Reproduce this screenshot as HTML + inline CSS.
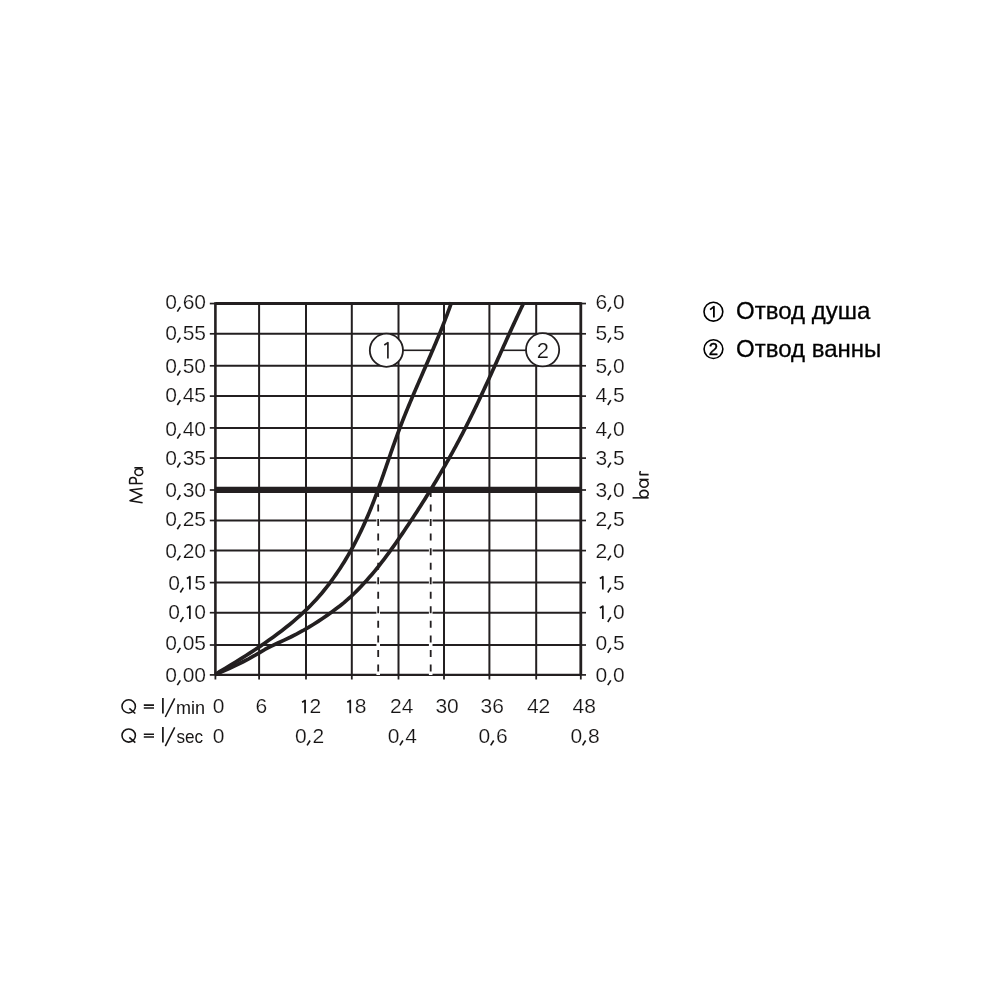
<!DOCTYPE html><html><head><meta charset="utf-8"><style>html,body{margin:0;padding:0;background:#fff;}svg{display:block;will-change:transform;}text{font-family:"Liberation Sans", sans-serif;fill:#161414;}.t{stroke:#fff;stroke-width:0.2px;}</style></head><body>
<svg width="1000" height="1000" viewBox="0 0 1000 1000">
<rect width="1000" height="1000" fill="#fff"/>
<g stroke="#231f20" fill="none"><line x1="209.8" y1="303.55" x2="215.40" y2="303.55" stroke-width="1.7"/><line x1="580.80" y1="303.55" x2="586" y2="303.55" stroke-width="1.7"/><line x1="215.40" y1="303.55" x2="580.80" y2="303.55" stroke-width="2.95"/><line x1="209.8" y1="333.80" x2="215.40" y2="333.80" stroke-width="1.7"/><line x1="580.80" y1="333.80" x2="586" y2="333.80" stroke-width="1.7"/><line x1="215.40" y1="333.80" x2="580.80" y2="333.80" stroke-width="2.00"/><line x1="209.8" y1="365.80" x2="215.40" y2="365.80" stroke-width="1.7"/><line x1="580.80" y1="365.80" x2="586" y2="365.80" stroke-width="1.7"/><line x1="215.40" y1="365.80" x2="580.80" y2="365.80" stroke-width="2.00"/><line x1="209.8" y1="396.10" x2="215.40" y2="396.10" stroke-width="1.7"/><line x1="580.80" y1="396.10" x2="586" y2="396.10" stroke-width="1.7"/><line x1="215.40" y1="396.10" x2="580.80" y2="396.10" stroke-width="2.00"/><line x1="209.8" y1="427.90" x2="215.40" y2="427.90" stroke-width="1.7"/><line x1="580.80" y1="427.90" x2="586" y2="427.90" stroke-width="1.7"/><line x1="215.40" y1="427.90" x2="580.80" y2="427.90" stroke-width="2.00"/><line x1="209.8" y1="458.10" x2="215.40" y2="458.10" stroke-width="1.7"/><line x1="580.80" y1="458.10" x2="586" y2="458.10" stroke-width="1.7"/><line x1="215.40" y1="458.10" x2="580.80" y2="458.10" stroke-width="2.00"/><line x1="209.8" y1="490.00" x2="215.40" y2="490.00" stroke-width="1.7"/><line x1="580.80" y1="490.00" x2="586" y2="490.00" stroke-width="1.7"/><line x1="215.40" y1="489.8" x2="580.80" y2="489.8" stroke-width="6.2"/><line x1="209.8" y1="520.50" x2="215.40" y2="520.50" stroke-width="1.7"/><line x1="580.80" y1="520.50" x2="586" y2="520.50" stroke-width="1.7"/><line x1="215.40" y1="520.50" x2="580.80" y2="520.50" stroke-width="2.00"/><line x1="209.8" y1="550.60" x2="215.40" y2="550.60" stroke-width="1.7"/><line x1="580.80" y1="550.60" x2="586" y2="550.60" stroke-width="1.7"/><line x1="215.40" y1="550.60" x2="580.80" y2="550.60" stroke-width="2.00"/><line x1="209.8" y1="582.60" x2="215.40" y2="582.60" stroke-width="1.7"/><line x1="580.80" y1="582.60" x2="586" y2="582.60" stroke-width="1.7"/><line x1="215.40" y1="582.60" x2="580.80" y2="582.60" stroke-width="2.00"/><line x1="209.8" y1="612.70" x2="215.40" y2="612.70" stroke-width="1.7"/><line x1="580.80" y1="612.70" x2="586" y2="612.70" stroke-width="1.7"/><line x1="215.40" y1="612.70" x2="580.80" y2="612.70" stroke-width="2.00"/><line x1="209.8" y1="645.00" x2="215.40" y2="645.00" stroke-width="1.7"/><line x1="580.80" y1="645.00" x2="586" y2="645.00" stroke-width="1.7"/><line x1="215.40" y1="645.00" x2="580.80" y2="645.00" stroke-width="2.00"/><line x1="209.8" y1="674.90" x2="215.40" y2="674.90" stroke-width="1.7"/><line x1="580.80" y1="674.90" x2="586" y2="674.90" stroke-width="1.7"/><line x1="215.40" y1="674.90" x2="580.80" y2="674.90" stroke-width="2.20"/><line x1="215.40" y1="302.15" x2="215.40" y2="674.90" stroke-width="2.60"/><line x1="215.40" y1="674.90" x2="215.40" y2="679.5" stroke-width="1.8"/><line x1="259.10" y1="302.15" x2="259.10" y2="674.90" stroke-width="2.00"/><line x1="259.10" y1="674.90" x2="259.10" y2="679.5" stroke-width="1.8"/><line x1="306.00" y1="302.15" x2="306.00" y2="674.90" stroke-width="2.00"/><line x1="306.00" y1="674.90" x2="306.00" y2="679.5" stroke-width="1.8"/><line x1="351.80" y1="302.15" x2="351.80" y2="674.90" stroke-width="2.00"/><line x1="351.80" y1="674.90" x2="351.80" y2="679.5" stroke-width="1.8"/><line x1="398.50" y1="302.15" x2="398.50" y2="674.90" stroke-width="2.00"/><line x1="398.50" y1="674.90" x2="398.50" y2="679.5" stroke-width="1.8"/><line x1="444.00" y1="302.15" x2="444.00" y2="674.90" stroke-width="2.00"/><line x1="444.00" y1="674.90" x2="444.00" y2="679.5" stroke-width="1.8"/><line x1="489.40" y1="302.15" x2="489.40" y2="674.90" stroke-width="2.00"/><line x1="489.40" y1="674.90" x2="489.40" y2="679.5" stroke-width="1.8"/><line x1="536.20" y1="302.15" x2="536.20" y2="674.90" stroke-width="2.00"/><line x1="536.20" y1="674.90" x2="536.20" y2="679.5" stroke-width="1.8"/><line x1="580.80" y1="302.15" x2="580.80" y2="674.90" stroke-width="2.80"/><line x1="580.80" y1="674.90" x2="580.80" y2="679.5" stroke-width="1.8"/></g>
<line x1="378.2" y1="494" x2="378.2" y2="675" stroke="#fff" stroke-width="3.6"/>
<line x1="378.2" y1="490" x2="378.2" y2="675.5" stroke="#231f20" stroke-width="1.8" stroke-dasharray="7 7.54"/>
<line x1="430.7" y1="494" x2="430.7" y2="675" stroke="#fff" stroke-width="3.6"/>
<line x1="430.7" y1="490" x2="430.7" y2="675.5" stroke="#231f20" stroke-width="1.8" stroke-dasharray="7 7.54"/>
<path d="M215.50,674.50 L220.06,671.37 L225.33,668.24 L230.52,665.12 L235.64,661.99 L240.69,658.86 L245.65,655.73 L250.52,652.61 L255.30,649.48 L259.99,646.35 L264.57,643.22 L269.04,640.09 L273.41,636.97 L277.65,633.84 L281.78,630.71 L285.78,627.58 L289.66,624.46 L293.41,621.33 L297.04,618.20 L300.55,615.07 L303.94,611.95 L307.20,608.82 L310.34,605.69 L313.37,602.56 L316.27,599.43 L319.07,596.31 L321.75,593.18 L324.34,590.05 L326.83,586.92 L329.24,583.80 L331.56,580.67 L333.81,577.54 L336.00,574.41 L338.12,571.28 L340.19,568.16 L342.20,565.03 L344.16,561.90 L346.07,558.77 L347.92,555.65 L349.73,552.52 L351.49,549.39 L353.21,546.26 L354.88,543.14 L356.51,540.01 L358.09,536.88 L359.64,533.75 L361.15,530.62 L362.62,527.50 L364.05,524.37 L365.45,521.24 L366.82,518.11 L368.16,514.99 L369.46,511.86 L370.74,508.73 L371.99,505.60 L373.22,502.47 L374.43,499.35 L375.61,496.22 L376.78,493.09 L377.93,489.96 L379.06,486.84 L380.18,483.71 L381.29,480.58 L382.39,477.45 L383.48,474.33 L384.56,471.20 L385.64,468.07 L386.72,464.94 L387.80,461.81 L388.87,458.69 L389.95,455.56 L391.03,452.43 L392.12,449.30 L393.22,446.18 L394.32,443.05 L395.44,439.92 L396.57,436.79 L397.71,433.66 L398.87,430.54 L400.05,427.41 L401.25,424.28 L402.47,421.15 L403.70,418.03 L404.96,414.90 L406.22,411.77 L407.51,408.64 L408.80,405.52 L410.11,402.39 L411.43,399.26 L412.75,396.13 L414.09,393.00 L415.43,389.88 L416.78,386.75 L418.14,383.62 L419.50,380.49 L420.86,377.37 L422.23,374.24 L423.59,371.11 L424.96,367.98 L426.32,364.85 L427.68,361.73 L429.04,358.60 L430.39,355.47 L431.74,352.34 L433.07,349.22 L434.41,346.09 L435.73,342.96 L437.04,339.83 L438.34,336.71 L439.62,333.58 L440.90,330.45 L442.15,327.32 L443.40,324.19 L444.62,321.07 L445.83,317.94 L447.01,314.81 L448.18,311.68 L449.32,308.56 L450.44,305.43 L451.54,302.30" stroke="#231f20" stroke-width="3.7" fill="none" stroke-linejoin="round"/>
<path d="M215.50,674.50 L222.72,671.37 L229.66,668.25 L236.31,665.12 L242.64,662.00 L248.65,658.87 L254.32,655.74 L259.65,652.62 L264.92,649.49 L270.80,646.37 L277.40,643.24 L284.21,640.11 L290.76,636.99 L296.89,633.86 L302.66,630.74 L308.10,627.61 L313.26,624.48 L318.16,621.36 L322.86,618.23 L327.39,615.11 L331.78,611.98 L336.05,608.85 L340.14,605.73 L344.00,602.60 L347.64,599.47 L351.08,596.35 L354.36,593.22 L357.51,590.10 L360.56,586.97 L363.51,583.84 L366.37,580.72 L369.15,577.59 L371.86,574.47 L374.49,571.34 L377.05,568.21 L379.55,565.09 L381.98,561.96 L384.37,558.84 L386.71,555.71 L389.00,552.58 L391.26,549.46 L393.48,546.33 L395.68,543.21 L397.85,540.08 L400.00,536.95 L402.14,533.83 L404.26,530.70 L406.37,527.58 L408.46,524.45 L410.54,521.32 L412.60,518.20 L414.65,515.07 L416.68,511.95 L418.69,508.82 L420.69,505.69 L422.68,502.57 L424.65,499.44 L426.60,496.32 L428.54,493.19 L430.46,490.06 L432.37,486.94 L434.26,483.81 L436.14,480.68 L438.00,477.56 L439.84,474.43 L441.67,471.31 L443.48,468.18 L445.28,465.05 L447.06,461.93 L448.82,458.80 L450.57,455.68 L452.30,452.55 L454.02,449.42 L455.72,446.30 L457.40,443.17 L459.07,440.05 L460.72,436.92 L462.36,433.79 L463.98,430.67 L465.58,427.54 L467.17,424.42 L468.74,421.29 L470.30,418.16 L471.84,415.04 L473.37,411.91 L474.88,408.79 L476.39,405.66 L477.88,402.53 L479.36,399.41 L480.83,396.28 L482.30,393.16 L483.75,390.03 L485.20,386.90 L486.64,383.78 L488.07,380.65 L489.50,377.53 L490.92,374.40 L492.34,371.27 L493.75,368.15 L495.16,365.02 L496.57,361.89 L497.98,358.77 L499.39,355.64 L500.79,352.52 L502.20,349.39 L503.61,346.26 L505.02,343.14 L506.44,340.01 L507.86,336.89 L509.28,333.76 L510.71,330.63 L512.14,327.51 L513.58,324.38 L515.03,321.26 L516.48,318.13 L517.94,315.00 L519.42,311.88 L520.90,308.75 L522.39,305.63 L523.90,302.50" stroke="#231f20" stroke-width="3.7" fill="none" stroke-linejoin="round"/>
<line x1="403" y1="350.3" x2="432" y2="350.3" stroke="#231f20" stroke-width="1.6"/>
<line x1="503" y1="350.3" x2="526" y2="350.3" stroke="#231f20" stroke-width="1.6"/>
<circle cx="386.4" cy="350.25" r="16.6" fill="#fff" stroke="#231f20" stroke-width="1.8"/>
<circle cx="542.6" cy="349.8" r="16.6" fill="#fff" stroke="#231f20" stroke-width="1.8"/>
<path d="M384.3,344.9 L387.9,342.7 L387.9,358.4" stroke="#231f20" stroke-width="1.7" fill="none" stroke-linejoin="round"/>
<text x="542.9" y="358.2" class="t" font-size="22" text-anchor="middle">2</text>
<text x="165.13 182.64 194.32" y="308.80" class="t" font-size="21">060</text><path d="M180.32,306.80 L177.32,311.70" stroke="#161414" stroke-width="1.6" fill="none"/>
<text x="165.13 182.64 194.32" y="339.70" class="t" font-size="21">055</text><path d="M180.32,337.70 L177.32,342.60" stroke="#161414" stroke-width="1.6" fill="none"/>
<text x="165.13 182.64 194.32" y="372.60" class="t" font-size="21">050</text><path d="M180.32,370.60 L177.32,375.50" stroke="#161414" stroke-width="1.6" fill="none"/>
<text x="165.13 182.64 194.32" y="402.10" class="t" font-size="21">045</text><path d="M180.32,400.10 L177.32,405.00" stroke="#161414" stroke-width="1.6" fill="none"/>
<text x="165.13 182.64 194.32" y="435.70" class="t" font-size="21">040</text><path d="M180.32,433.70 L177.32,438.60" stroke="#161414" stroke-width="1.6" fill="none"/>
<text x="165.13 182.64 194.32" y="464.60" class="t" font-size="21">035</text><path d="M180.32,462.60 L177.32,467.50" stroke="#161414" stroke-width="1.6" fill="none"/>
<text x="165.13 182.64 194.32" y="497.00" class="t" font-size="21">030</text><path d="M180.32,495.00 L177.32,499.90" stroke="#161414" stroke-width="1.6" fill="none"/>
<text x="165.13 182.64 194.32" y="526.35" class="t" font-size="21">025</text><path d="M180.32,524.35 L177.32,529.25" stroke="#161414" stroke-width="1.6" fill="none"/>
<text x="165.13 182.64 194.32" y="557.55" class="t" font-size="21">020</text><path d="M180.32,555.55 L177.32,560.45" stroke="#161414" stroke-width="1.6" fill="none"/>
<text x="168.13 194.32" y="589.60" class="t" font-size="21">05</text><path d="M183.32,587.60 L180.32,592.50" stroke="#161414" stroke-width="1.6" fill="none"/><path d="M186.88,578.49 L189.88,576.79 L189.88,589.60" stroke="#161414" stroke-width="1.75" fill="none" stroke-linejoin="round"/>
<text x="168.13 194.32" y="619.10" class="t" font-size="21">00</text><path d="M183.32,617.10 L180.32,622.00" stroke="#161414" stroke-width="1.6" fill="none"/><path d="M186.88,607.99 L189.88,606.29 L189.88,619.10" stroke="#161414" stroke-width="1.75" fill="none" stroke-linejoin="round"/>
<text x="165.13 182.64 194.32" y="649.90" class="t" font-size="21">005</text><path d="M180.32,647.90 L177.32,652.80" stroke="#161414" stroke-width="1.6" fill="none"/>
<text x="165.13 182.64 194.32" y="682.30" class="t" font-size="21">000</text><path d="M180.32,680.30 L177.32,685.20" stroke="#161414" stroke-width="1.6" fill="none"/>
<text x="595.60 613.11" y="308.80" class="t" font-size="21">60</text><path d="M610.80,306.80 L607.80,311.70" stroke="#161414" stroke-width="1.6" fill="none"/>
<text x="595.60 613.11" y="339.70" class="t" font-size="21">55</text><path d="M610.80,337.70 L607.80,342.60" stroke="#161414" stroke-width="1.6" fill="none"/>
<text x="595.60 613.11" y="372.60" class="t" font-size="21">50</text><path d="M610.80,370.60 L607.80,375.50" stroke="#161414" stroke-width="1.6" fill="none"/>
<text x="595.60 613.11" y="402.10" class="t" font-size="21">45</text><path d="M610.80,400.10 L607.80,405.00" stroke="#161414" stroke-width="1.6" fill="none"/>
<text x="595.60 613.11" y="435.70" class="t" font-size="21">40</text><path d="M610.80,433.70 L607.80,438.60" stroke="#161414" stroke-width="1.6" fill="none"/>
<text x="595.60 613.11" y="464.60" class="t" font-size="21">35</text><path d="M610.80,462.60 L607.80,467.50" stroke="#161414" stroke-width="1.6" fill="none"/>
<text x="595.60 613.11" y="497.00" class="t" font-size="21">30</text><path d="M610.80,495.00 L607.80,499.90" stroke="#161414" stroke-width="1.6" fill="none"/>
<text x="595.60 613.11" y="526.35" class="t" font-size="21">25</text><path d="M610.80,524.35 L607.80,529.25" stroke="#161414" stroke-width="1.6" fill="none"/>
<text x="595.60 613.11" y="557.55" class="t" font-size="21">20</text><path d="M610.80,555.55 L607.80,560.45" stroke="#161414" stroke-width="1.6" fill="none"/>
<text x="613.11" y="589.60" class="t" font-size="21">5</text><path d="M599.84,578.49 L602.84,576.79 L602.84,589.60" stroke="#161414" stroke-width="1.75" fill="none" stroke-linejoin="round"/><path d="M610.80,587.60 L607.80,592.50" stroke="#161414" stroke-width="1.6" fill="none"/>
<text x="613.11" y="619.10" class="t" font-size="21">0</text><path d="M599.84,607.99 L602.84,606.29 L602.84,619.10" stroke="#161414" stroke-width="1.75" fill="none" stroke-linejoin="round"/><path d="M610.80,617.10 L607.80,622.00" stroke="#161414" stroke-width="1.6" fill="none"/>
<text x="595.60 613.11" y="649.90" class="t" font-size="21">05</text><path d="M610.80,647.90 L607.80,652.80" stroke="#161414" stroke-width="1.6" fill="none"/>
<text x="595.60 613.11" y="682.30" class="t" font-size="21">00</text><path d="M610.80,680.30 L607.80,685.20" stroke="#161414" stroke-width="1.6" fill="none"/>
<text x="212.66" y="713.30" class="t" font-size="21">0</text>
<text x="255.56" y="713.30" class="t" font-size="21">6</text>
<text x="309.50" y="713.30" class="t" font-size="21">2</text><path d="M302.06,702.19 L305.06,700.49 L305.06,713.30" stroke="#161414" stroke-width="1.75" fill="none" stroke-linejoin="round"/>
<text x="354.70" y="713.30" class="t" font-size="21">8</text><path d="M347.26,702.19 L350.26,700.49 L350.26,713.30" stroke="#161414" stroke-width="1.75" fill="none" stroke-linejoin="round"/>
<text x="390.02 401.70" y="713.30" class="t" font-size="21">24</text>
<text x="435.42 447.10" y="713.30" class="t" font-size="21">30</text>
<text x="480.52 492.20" y="713.30" class="t" font-size="21">36</text>
<text x="526.92 538.60" y="713.30" class="t" font-size="21">42</text>
<text x="572.52 584.20" y="713.30" class="t" font-size="21">48</text>
<text x="212.66" y="742.50" class="t" font-size="21">0</text>
<text x="294.90 312.42" y="742.50" class="t" font-size="21">02</text><path d="M310.10,740.50 L307.10,745.40" stroke="#161414" stroke-width="1.6" fill="none"/>
<text x="387.70 405.22" y="742.50" class="t" font-size="21">04</text><path d="M402.90,740.50 L399.90,745.40" stroke="#161414" stroke-width="1.6" fill="none"/>
<text x="478.50 496.02" y="742.50" class="t" font-size="21">06</text><path d="M493.70,740.50 L490.70,745.40" stroke="#161414" stroke-width="1.6" fill="none"/>
<text x="570.40 587.92" y="742.50" class="t" font-size="21">08</text><path d="M585.60,740.50 L582.60,745.40" stroke="#161414" stroke-width="1.6" fill="none"/>
<ellipse cx="128.7" cy="706.40" rx="6.7" ry="6.6" fill="none" stroke="#161414" stroke-width="1.55"/>
<path d="M129.3,708.30 L135.3,713.50" stroke="#161414" stroke-width="1.6" fill="none"/>
<path d="M143.8,705.10 H154 M143.8,707.90 H154" stroke="#161414" stroke-width="1.55" fill="none"/>
<path d="M162.9,698.00 V713.50" stroke="#161414" stroke-width="1.7" fill="none"/>
<path d="M165.3,717.00 L174.7,698.30" stroke="#161414" stroke-width="1.55" fill="none"/>
<text transform="translate(176.05,713.50) scale(1.000,1)" font-size="18">min</text>
<ellipse cx="128.7" cy="735.50" rx="6.7" ry="6.6" fill="none" stroke="#161414" stroke-width="1.55"/>
<path d="M129.3,737.40 L135.3,742.60" stroke="#161414" stroke-width="1.6" fill="none"/>
<path d="M143.8,734.25 H154 M143.8,737.05 H154" stroke="#161414" stroke-width="1.55" fill="none"/>
<path d="M162.9,727.00 V742.50" stroke="#161414" stroke-width="1.7" fill="none"/>
<path d="M165.3,746.20 L174.7,727.30" stroke="#161414" stroke-width="1.55" fill="none"/>
<text transform="translate(176.50,742.60) scale(0.952,1)" font-size="18">sec</text>
<g stroke="#161414" stroke-width="1.55" fill="none"><path d="M142.6,502.7 L130.0,500.7 L141.8,495.3 L130.0,490.1 L142.6,488.4" stroke-linejoin="round"/><path d="M129.2,483.4 H142.7 M129.6,483.4 V480.7 A3.3,3.3 0 0 1 136.2,480.7 V483.4"/><ellipse cx="138.85" cy="472.1" rx="3.95" ry="3.45"/><path d="M134.4,467.75 H142.8"/></g>
<g stroke="#161414" stroke-width="1.55" fill="none"><path d="M632.6,497.85 H648.6"/><ellipse cx="644.0" cy="493.75" rx="4.2" ry="3.4"/><ellipse cx="644.0" cy="483.55" rx="4.2" ry="3.6"/><path d="M639.5,479.5 H648.6"/><path d="M639.6,474.6 H648.6 M640.0,474.6 Q639.6,472.6 640.4,471.0"/></g>
<circle cx="713.4" cy="311.7" r="9.4" fill="none" stroke="#000" stroke-width="1.6"/>
<circle cx="713.45" cy="349.1" r="9.4" fill="none" stroke="#000" stroke-width="1.6"/>
<path d="M710.1,309.6 L713.9,306.6 L713.9,317.5" stroke="#000" stroke-width="1.8" fill="none" stroke-linejoin="round"/>
<text x="713.3" y="354.7" font-size="16.8" text-anchor="middle" style="fill:#000;stroke:#000;stroke-width:0.4px">2</text>
<text x="736.1" y="319.4" font-size="24" style="fill:#000;stroke:#000;stroke-width:0.3px">Отвод душа</text>
<text x="736.1" y="357.0" font-size="24" style="fill:#000;stroke:#000;stroke-width:0.3px">Отвод ванны</text>
</svg></body></html>
